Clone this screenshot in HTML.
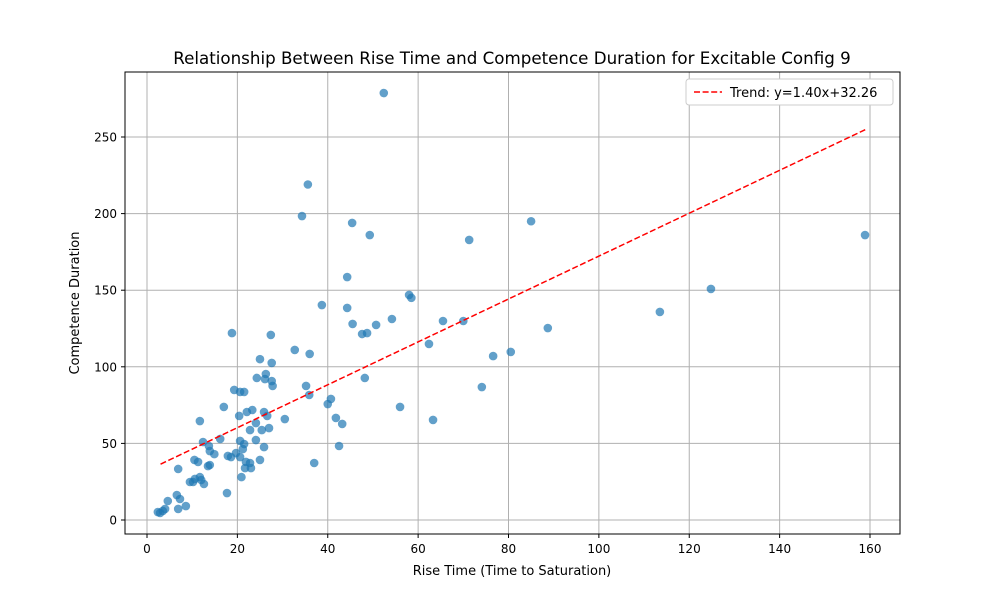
<!DOCTYPE html>
<html><head><meta charset="utf-8"><style>
body{margin:0;background:#fff;}
svg{display:block;font-family:"DejaVu Sans","Liberation Sans",sans-serif;}
</style></head><body>
<svg id="chart" width="1000" height="600">
<rect width="1000" height="600" fill="#fff"/>
<text x="512" y="64" text-anchor="middle" font-size="16.7">Relationship Between Rise Time and Competence Duration for Excitable Config 9</text>
<g id="grid"></g>
<g id="ticks"></g>
<g id="pts"></g>
<g id="trend"></g>
<rect x="125" y="72" width="775" height="462" fill="none" stroke="#000" stroke-width="1"/>
<text x="512" y="575" text-anchor="middle" font-size="13">Rise Time (Time to Saturation)</text>
<text transform="translate(79,303) rotate(-90)" text-anchor="middle" font-size="13">Competence Duration</text>
<g>
<rect x="686" y="79" width="207" height="26" rx="3" fill="#fff" stroke="#ccc"/>
<line x1="694" y1="92" x2="722" y2="92" stroke="red" stroke-width="1.5" stroke-dasharray="6,2.6"/>
<text x="730" y="97" font-size="13">Trend: y=1.40x+32.26</text>
</g>
</svg>
<script>
const xTicks=[0,20,40,60,80,100,120,140,160];
const yTicks=[0,50,100,150,200,250];
const riseTime=[52.4,35.6,34.3,45.4,49.3,85,71.3,158.9,124.8,113.5,44.3,38.7,58,58.5,44.3,54.2,50.7,45.5,65.5,70,88.7,47.6,48.7,18.8,27.4,32.7,36,62.4,80.5,76.6,25,27.6,26.3,24.3,26.1,48.2,27.6,27.8,35.2,74.1,19.3,20.6,21.5,35.9,40.7,40,17,56,25.9,22.1,23.3,26.6,20.4,30.5,41.8,63.3,11.7,24.1,43.2,27,22.8,25.4,16.2,24.1,20.6,12.4,21.5,13.7,42.5,25.9,13.9,14.9,21.2,19.7,17.9,18.6,20.6,25,10.5,11.3,21.9,22.8,37,13.9,13.5,21.7,23,6.9,20.9,11.7,10.6,10.2,12,12.6,9.5,17.7,6.6,7.3,4.6,8.6,6.9,4,3.5,2.9,2.4];
const duration=[278.7,219,198.4,193.9,186,195,182.8,186,150.8,135.8,158.6,140.3,146.9,145,138.4,131.2,127.3,128,129.9,129.9,125.3,121.4,122,122,120.8,111,108.4,114.9,109.7,107,105,102.5,95.3,92.7,92,92.7,90.7,87.5,87.5,86.8,84.9,83.6,83.6,81.6,79,75.7,73.8,73.8,70.5,70.5,71.8,67.9,67.9,65.9,66.6,65.3,64.6,63.3,62.7,60,58.7,58.7,52.9,52.2,51.6,50.9,49.6,48.3,48.3,47.6,45,43,46.3,43.7,41.8,41.1,41.1,39.2,39.2,37.9,37.9,37.2,37.2,35.9,35.2,33.9,33.9,33.3,28,28,26.8,24.8,26.1,23.5,24.8,17.6,16.3,13.7,12.4,9.1,7.2,7.2,5.9,4.6,5.2];
const trendSlope=1.40, trendIntercept=32.26, trendRange=[3,159];
const NS='http://www.w3.org/2000/svg';
const X=v=>147+v*(870-147)/160;
const Y=v=>520-v*(520-137)/250;
function mk(tag,attrs,parent){const e=document.createElementNS(NS,tag);for(const k in attrs)e.setAttribute(k,attrs[k]);parent.appendChild(e);return e;}
const grid=document.getElementById('grid'),ticks=document.getElementById('ticks'),pts=document.getElementById('pts'),trend=document.getElementById('trend');
xTicks.forEach(t=>{
  const gl=mk('line',{x1:X(t),x2:X(t),y1:72,y2:534,stroke:'#b0b0b0','stroke-width':1},grid);
  
  
  mk('line',{x1:X(t),x2:X(t),y1:534,y2:538,stroke:'#000'},ticks);
  const tx=mk('text',{x:X(t),y:553,'text-anchor':'middle','font-size':12},ticks);
  tx.textContent=t;
  
  
});
yTicks.forEach(t=>{
  const gl=mk('line',{x1:125,x2:900,y1:Y(t),y2:Y(t),stroke:'#b0b0b0','stroke-width':1},grid);
  
  
  mk('line',{x1:121,x2:125,y1:Y(t),y2:Y(t),stroke:'#000'},ticks);
  const tx=mk('text',{x:117,y:Y(t)+4.5,'text-anchor':'end','font-size':12},ticks);
  tx.textContent=t;
  
  
});
riseTime.forEach((v,i)=>{
  const c=mk('circle',{cx:X(v),cy:Y(duration[i]),r:4.3,fill:'#1f77b4','fill-opacity':0.7},pts);
  
  
});
const tl=mk('line',{x1:X(trendRange[0]),y1:Y(trendSlope*trendRange[0]+trendIntercept),x2:X(trendRange[1]),y2:Y(trendSlope*trendRange[1]+trendIntercept),stroke:'red','stroke-width':1.5,'stroke-dasharray':'6,2.6'},trend);


</script>
</body></html>
